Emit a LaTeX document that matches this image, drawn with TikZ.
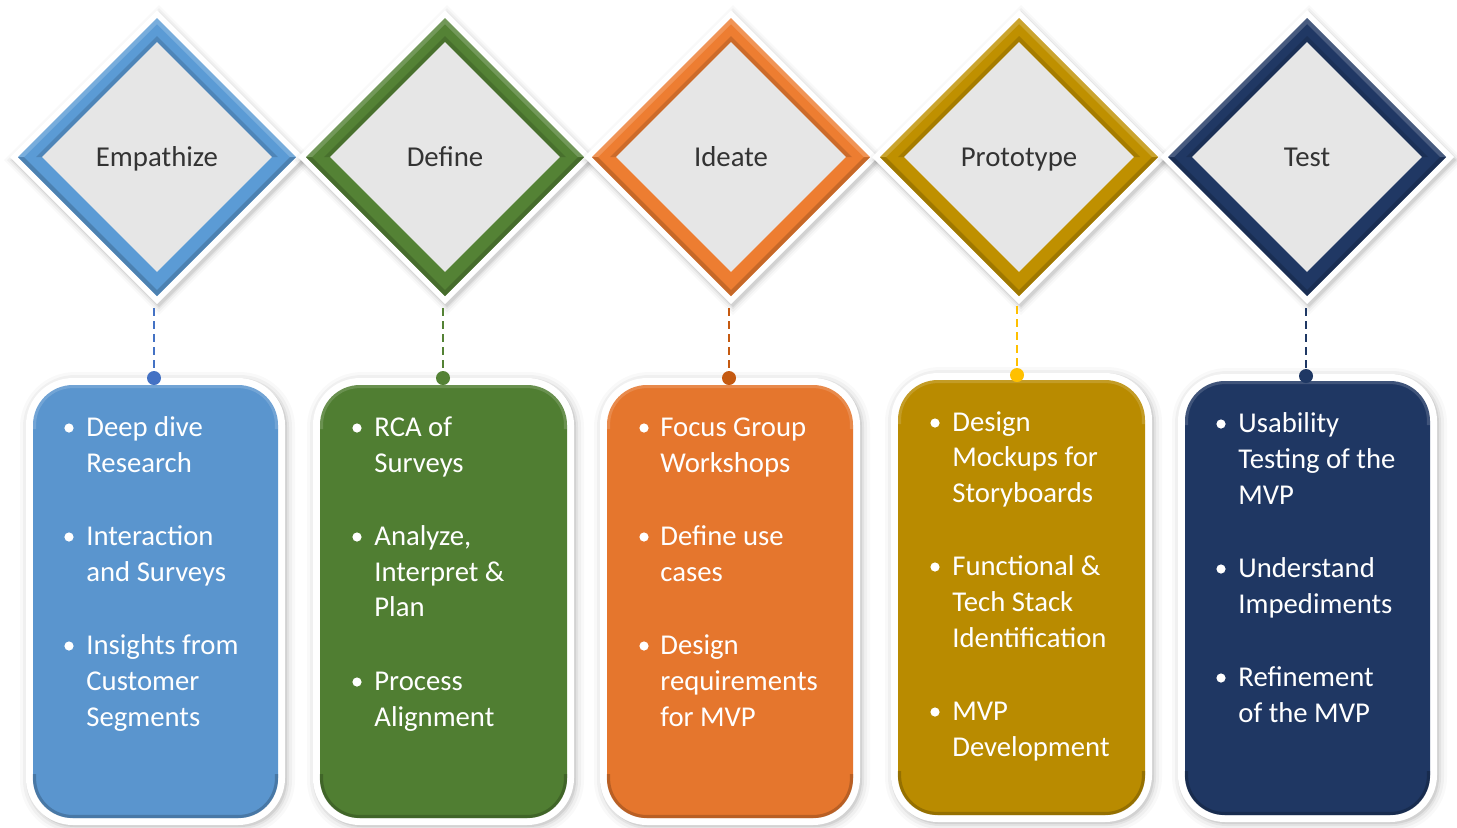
\documentclass[tikz,border=0pt]{standalone}
\usepackage{fontspec}
\setmainfont{Carlito}
\usetikzlibrary{shapes.geometric}
\definecolor{bandA}{HTML}{5B9BD5}
\definecolor{bandB}{HTML}{548235}
\definecolor{bandC}{HTML}{ED7D31}
\definecolor{bandD}{HTML}{BF9000}
\definecolor{bandE}{HTML}{203864}
\definecolor{boxA}{HTML}{5A95CE}
\definecolor{boxB}{HTML}{507E32}
\definecolor{boxC}{HTML}{E5762D}
\definecolor{boxD}{HTML}{B98B00}
\definecolor{boxE}{HTML}{1F3763}
\definecolor{lnA}{HTML}{4472C4}
\definecolor{lnB}{HTML}{548235}
\definecolor{lnC}{HTML}{C55A11}
\definecolor{lnD}{HTML}{FFC000}
\definecolor{lnE}{HTML}{1F3864}
\definecolor{graybg}{HTML}{E6E6E6}
\definecolor{labeltext}{HTML}{333333}
\newcommand\dia[4]{%
  \foreach \k/\o in {8/0.025,5/0.035,2/0.05,0/0.07}{
    \fill[black, opacity=\o] (#2+2,160) +(0,-147-\k) -- +(147+\k,0) -- +(0,147+\k) -- +(-147-\k,0) -- cycle;
  }
  \fill[white] (#2,157) +(0,-147) -- +(147,0) -- +(0,147) -- +(-147,0) -- cycle;
  \fill[#3] (#2,157) +(0,-139) -- +(139,0) -- +(0,139) -- +(-139,0) -- cycle;
  \fill[#3!70!black, opacity=0.55] (#2,157) +(-139,0) -- +(0,139) -- +(139,0)
    -- +(133,0) -- +(0,133) -- +(-133,0) -- cycle;
  \fill[#3!70!black, opacity=0.45] (#2,157) +(-115,0) -- +(0,-115) -- +(115,0)
    -- +(121,0) -- +(0,-121) -- +(-121,0) -- cycle;
  \fill[white, opacity=0.18] (#2,157) +(-139,0) -- +(0,-139) -- +(139,0)
    -- +(133,0) -- +(0,-133) -- +(-133,0) -- cycle;
  \node[phase] (#1) at (#2,157) {#4};
}
\newcommand\panel[6]{%
  \foreach \k/\o in {8/0.025,5/0.035,2/0.05,0/0.07}{
    \fill[black, opacity=\o, rounded corners={(23.5+\k*0.5)*1pt}]
      (#2-5-\k,#3-5-\k) rectangle (#4+9+\k,#5+9+\k);
  }
  \fill[white, rounded corners=23.5pt] (#2-7,#3-7) rectangle (#4+7,#5+7);
  \node[panelbox, fill=#6, minimum width={(#4-#2)*0.5pt}, minimum height={(#5-#3)*0.5pt}]
    (#1) at ({(#2+#4)/2},{(#3+#5)/2}) {};
  \draw[#6!65!black, line width=1.6pt, rounded corners=19pt, opacity=0.55]
      (#2+1.5,#5-44) -- (#2+1.5,#5-1.5) -- (#4-1.5,#5-1.5) -- (#4-1.5,#5-44);
  \draw[white, line width=1.6pt, rounded corners=19pt, opacity=0.15]
      (#2+1.5,#3+44) -- (#2+1.5,#3+1.5) -- (#4-1.5,#3+1.5) -- (#4-1.5,#3+44);
}
\newcommand\bline[4]{\node[itemtext] (#1) at (#2,#3+10) {#4};}
\newcommand\bdot[3]{\node[bulletdot] (#1) at (#2,#3+2) {};}
\begin{document}
\begin{tikzpicture}[x=0.5pt,y=-0.5pt,
  phase/.style={diamond, aspect=1, fill=graybg, inner sep=0pt,
    minimum width=115pt, minimum height=115pt, text=labeltext,
    text height=10pt, text depth=1pt,
    font=\fontsize{14.4pt}{17pt}\selectfont},
  panelbox/.style={rectangle, rounded corners=20pt, inner sep=0pt},
  itemtext/.style={anchor=base west, inner sep=0pt, text=white,
    font=\fontsize{14.35pt}{18pt}\selectfont},
  bulletdot/.style={circle, fill=white, inner sep=0pt, minimum size=4.6pt},
  joint/.style={circle, inner sep=0pt, minimum size=7pt},
  link/.style={dashed, dash pattern=on 4pt off 2.5pt, line width=1pt}
]
\useasboundingbox (0,0) rectangle (1457,827);
\fill[white] (0,0) rectangle (1457,827);

% ---- diamonds
\dia{d1}{157}{bandA}{Empathize}
\dia{d2}{445}{bandB}{Define}
\dia{d3}{731}{bandC}{Ideate}
\dia{d4}{1019}{bandD}{Prototype}
\dia{d5}{1307}{bandE}{Test}

% ---- panels
\panel{p1}{33}{385}{278}{818}{boxA}
\panel{p2}{320}{385}{567}{818}{boxB}
\panel{p3}{607}{385}{853}{818}{boxC}
\panel{p4}{898}{380}{1145}{815}{boxD}
\panel{p5}{1185}{381}{1430}{815}{boxE}

% ---- connectors
\coordinate (c1) at (154,308);
\coordinate (c2) at (443,308);
\coordinate (c3) at (729,308);
\coordinate (c4) at (1017,306);
\coordinate (c5) at (1306,308);
\node[joint, fill=lnA] (j1) at (154,378) {};
\node[joint, fill=lnB] (j2) at (443,378) {};
\node[joint, fill=lnC] (j3) at (729,378) {};
\node[joint, fill=lnD] (j4) at (1017,375) {};
\node[joint, fill=lnE] (j5) at (1306,376) {};
\draw[link, lnA] (c1) -- (j1);
\draw[link, lnB] (c2) -- (j2);
\draw[link, lnC] (c3) -- (j3);
\draw[link, lnD] (c4) -- (j4);
\draw[link, lnE] (c5) -- (j5);

% ---- panel 1 text
\bdot{b11}{69}{426}
\bline{t11}{86}{426}{Deep dive}
\bline{t12}{86}{462}{Research}
\bdot{b12}{69}{535}
\bline{t13}{86}{535}{Interaction}
\bline{t14}{86}{571}{and Surveys}
\bdot{b13}{69}{644}
\bline{t15}{86}{644}{Insights from}
\bline{t16}{86}{680}{Customer}
\bline{t17}{86}{716}{Segments}

% ---- panel 2 text
\bdot{b21}{357}{426}
\bline{t21}{374}{426}{RCA of}
\bline{t22}{374}{462}{Surveys}
\bdot{b22}{357}{535}
\bline{t23}{374}{535}{Analyze,}
\bline{t24}{374}{571}{Interpret \&}
\bline{t25}{374}{606}{Plan}
\bdot{b23}{357}{680}
\bline{t26}{374}{680}{Process}
\bline{t27}{374}{716}{Alignment}

% ---- panel 3 text
\bdot{b31}{644}{426}
\bline{t31}{660}{426}{Focus Group}
\bline{t32}{660}{462}{Workshops}
\bdot{b32}{644}{535}
\bline{t33}{660}{535}{Define use}
\bline{t34}{660}{571}{cases}
\bdot{b33}{644}{644}
\bline{t35}{660}{644}{Design}
\bline{t36}{660}{680}{requirements}
\bline{t37}{660}{716}{for MVP}

% ---- panel 4 text
\bdot{b41}{935}{421}
\bline{t41}{952}{421}{Design}
\bline{t42}{952}{456}{Mockups for}
\bline{t43}{952}{492}{Storyboards}
\bdot{b42}{935}{565}
\bline{t44}{952}{565}{Functional \&}
\bline{t45}{952}{601}{Tech Stack}
\bline{t46}{952}{637}{Identification}
\bdot{b43}{935}{710}
\bline{t47}{952}{710}{MVP}
\bline{t48}{952}{746}{Development}

% ---- panel 5 text
\bdot{b51}{1221}{422}
\bline{t51}{1238}{422}{Usability}
\bline{t52}{1238}{458}{Testing of the}
\bline{t53}{1238}{494}{MVP}
\bdot{b52}{1221}{567}
\bline{t54}{1238}{567}{Understand}
\bline{t55}{1238}{603}{Impediments}
\bdot{b53}{1221}{676}
\bline{t56}{1238}{676}{Refinement}
\bline{t57}{1238}{712}{of the MVP}
\end{tikzpicture}
\end{document}
